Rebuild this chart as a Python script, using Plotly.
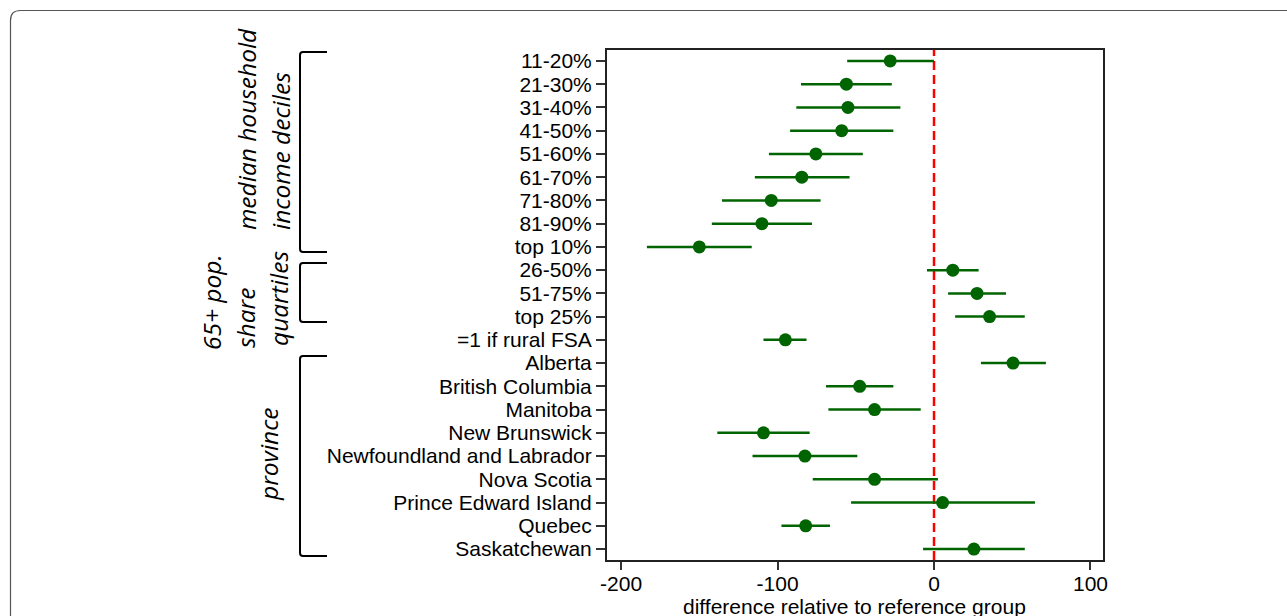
import plotly.graph_objects as go

# ---- data ----
labels = ["11-20%", "21-30%", "31-40%", "41-50%", "51-60%", "61-70%", "71-80%",
          "81-90%", "top 10%", "26-50%", "51-75%", "top 25%", "=1 if rural FSA",
          "Alberta", "British Columbia", "Manitoba", "New Brunswick",
          "Newfoundland and Labrador", "Nova Scotia", "Prince Edward Island",
          "Quebec", "Saskatchewan"]
estimate = [-28, -56, -55, -59, -75.5, -84.5, -104, -110, -150,
            12, 27.5, 35.5, -95,
            50.5, -47.5, -38, -109, -82.5, -38, 5.5, -82, 25.5]
ci_low = [-55.5, -85, -88, -92, -105.5, -114.5, -135.5, -142, -183.5,
          -4.5, 9, 13.5, -109,
          30, -69, -67.5, -138.5, -116, -77.5, -53, -97.5, -7]
ci_high = [0, -27, -21.5, -26, -45.5, -54, -72.5, -78, -116.5,
           28.5, 46, 58, -81.5,
           71.5, -26, -8.5, -79.5, -49, 2.5, 64.5, -66.5, 58]
x_ticks = [-200, -100, 0, 100]
x_tick_text = ["-200", "-100", "0", "100"]
x_title = "difference relative to reference group"
group_labels = ["median household", "income deciles", "65+ pop.", "share",
                "quartiles", "province"]

W, H = 1287, 616
L, R, T, B = 607, 1103, 50, 560


def px(xp):
    return (xp - L) / (R - L)


def py(yp):
    return (B - yp) / (B - T)


GREEN = "#006400"

fig = go.Figure()
fig.add_trace(go.Scatter(
    x=estimate, y=labels, mode="markers",
    marker=dict(color=GREEN, size=13, line=dict(width=0)),
    error_x=dict(type="data", symmetric=False,
                 array=[h - e for h, e in zip(ci_high, estimate)],
                 arrayminus=[e - l for e, l in zip(estimate, ci_low)],
                 color=GREEN, thickness=2.5, width=0),
    showlegend=False, hoverinfo="skip"))

shapes = []
# red dashed reference line at 0
shapes.append(dict(type="line", xref="x", yref="paper", x0=0, x1=0, y0=0, y1=1,
                   line=dict(color="red", width=2.5, dash="9px,5px"), layer="below"))


def bracket(top, bot, xv=300, xa=327, r=3):
    path = "M {} {} L {} {} Q {} {} {} {} L {} {} Q {} {} {} {} L {} {}".format(
        px(xa), py(top), px(xv + r), py(top),
        px(xv), py(top), px(xv), py(top + r),
        px(xv), py(bot - r),
        px(xv), py(bot), px(xv + r), py(bot),
        px(xa), py(bot))
    return dict(type="path", xref="paper", yref="paper", path=path,
                line=dict(color="black", width=2))


shapes.append(bracket(52, 252))
shapes.append(bracket(263, 322))
shapes.append(bracket(356, 556))

# outer rounded frame
rr = 10
frame = "M {} {} L {} {} Q {} {} {} {} L {} {}".format(
    px(10.5), py(640), px(10.5), py(10.5 + rr),
    px(10.5), py(10.5), px(10.5 + rr), py(10.5),
    px(1400), py(10.5))
shapes.append(dict(type="path", xref="paper", yref="paper", path=frame,
                   line=dict(color="#555555", width=1.2)))

ital = dict(family="Open Sans, DejaVu Sans, sans-serif", size=24.5, color="black")
ann_pos = [(246, 129), (280, 151), (211, 302), (245, 318), (278, 299), (268, 454)]
annotations = []
for txt, (ax, ay) in zip(group_labels, ann_pos):
    annotations.append(dict(text="<i>" + txt + "</i>", xref="paper", yref="paper",
                            x=px(ax), y=py(ay), xanchor="center", yanchor="middle",
                            textangle=-90, showarrow=False, font=ital))

# x-axis title as annotation for exact placement
annotations.append(dict(text=x_title, xref="paper", yref="paper",
                        x=px(854), y=py(606), xanchor="center", yanchor="middle",
                        showarrow=False,
                        font=dict(family="Liberation Sans, Arial, sans-serif",
                                  size=21, color="black")))

fig.update_layout(
    width=W, height=H,
    margin=dict(l=L, r=W - R, t=T, b=H - B, pad=0, autoexpand=False),
    paper_bgcolor="white", plot_bgcolor="white",
    font=dict(family="Liberation Sans, Arial, Helvetica, sans-serif", size=21,
              color="black"),
    xaxis=dict(range=[-209, 108], tickmode="array", tickvals=x_ticks,
               ticktext=x_tick_text, ticks="outside", ticklen=8,
               tickwidth=1.5, tickcolor="#333", showgrid=False, zeroline=False,
               showline=True, linecolor="#222", linewidth=2, mirror=True,
               tickfont=dict(size=21), automargin=False, ticklabelstandoff=-4),
    yaxis=dict(type="category", categoryorder="array", categoryarray=labels,
               tickmode="array", tickvals=labels, ticktext=labels,
               range=[21.47, -0.47], ticks="outside", ticklen=9, tickwidth=1.5,
               tickcolor="#333", showgrid=False, zeroline=False, showline=True,
               linecolor="#222", linewidth=2, mirror=True, automargin=False,
               tickfont=dict(size=21)),
    shapes=shapes, annotations=annotations,
)

fig.write_html("out.html")
